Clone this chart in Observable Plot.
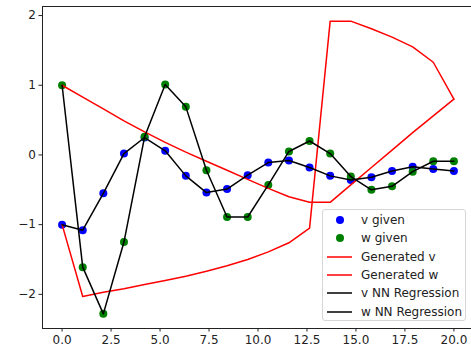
<!DOCTYPE html>
<html>
<head>
<meta charset="utf-8">
<script src="https://cdn.jsdelivr.net/npm/d3@7"></script>
<script src="https://cdn.jsdelivr.net/npm/@observablehq/plot@0.6"></script>
<style>
  html, body { margin: 0; padding: 0; background: #fff; overflow: hidden; width: 471px; height: 351px; }
  #wrap { position: relative; width: 480px; height: 351px; }
  #wrap svg { max-width: none !important; display: block; }
  .legend { position: absolute; left: 322px; top: 209px; width: 144px; height: 112px;
    border: 1px solid #d6d6d6; border-radius: 3px; background: rgba(255,255,255,0.85);
    font-family: "DejaVu Sans", sans-serif; font-size: 12px; color: #222; box-sizing: border-box; }
  .row { position: absolute; left: 0; height: 18px; width: 100%; }
  .row svg { position: absolute; left: 3px; top: 0; }
  .row span { position: absolute; left: 38px; top: 1px; line-height: 16px; white-space: nowrap; }
</style>
</head>
<body>
<div id="wrap"></div>
<script>
// x positions of the samples
const xs = [0, 1.053, 2.105, 3.158, 4.211, 5.263, 6.316, 7.368, 8.421, 9.474,
            10.526, 11.579, 12.632, 13.684, 14.737, 15.789, 16.842, 17.895, 18.947, 20];
// given points
const vGiven = [-1.00, -1.08, -0.55, 0.02, 0.25, 0.06, -0.30, -0.54, -0.49, -0.29,
                -0.11, -0.08, -0.18, -0.30, -0.36, -0.32, -0.23, -0.17, -0.20, -0.23];
const wGiven = [1.00, -1.61, -2.28, -1.25, 0.26, 1.01, 0.69, -0.22, -0.89, -0.89,
                -0.43, 0.05, 0.20, 0.02, -0.31, -0.50, -0.45, -0.24, -0.09, -0.09];
// generated curves
const genV = [1.00, 0.83, 0.66, 0.49, 0.33, 0.18, 0.04, -0.09, -0.22, -0.35,
              -0.48, -0.60, -0.68, -0.68, -0.43, -0.18, 0.07, 0.32, 0.56, 0.80];
const genW = [-1.00, -2.03, -1.97, -1.92, -1.86, -1.80, -1.74, -1.67, -1.59, -1.50,
              -1.39, -1.26, -1.05, 1.92, 1.92, 1.81, 1.69, 1.55, 1.33, 0.80];
// NN regression
const vNN = [-1.00, -1.08, -0.55, 0.02, 0.25, 0.06, -0.30, -0.54, -0.49, -0.29,
             -0.11, -0.08, -0.18, -0.30, -0.36, -0.32, -0.23, -0.17, -0.20, -0.23];
const wNN = [1.00, -1.61, -2.28, -1.25, 0.26, 1.01, 0.69, -0.22, -0.89, -0.89,
             -0.43, 0.05, 0.20, 0.02, -0.31, -0.50, -0.45, -0.24, -0.09, -0.09];
// ticks
const xTicks = [0, 2.5, 5, 7.5, 10, 12.5, 15, 17.5, 20];
const yTicks = [-2, -1, 0, 1, 2];

const legendItems = [
  {label: "v given", kind: "dot", color: "#0000ff"},
  {label: "w given", kind: "dot", color: "#008000"},
  {label: "Generated v", kind: "line", color: "#ff0000"},
  {label: "Generated w", kind: "line", color: "#ff0000"},
  {label: "v NN Regression", kind: "line", color: "#000000"},
  {label: "w NN Regression", kind: "line", color: "#000000"}
];

const tbl = arr => xs.map((x, i) => ({x, y: arr[i]}));

const chart = Plot.plot({
  width: 480,
  height: 351,
  marginLeft: 42,
  marginRight: 7,
  marginTop: 6,
  marginBottom: 23,
  style: {fontFamily: "DejaVu Sans, sans-serif", fontSize: "12px", color: "#222", background: "#fff"},
  x: {domain: [-1, 21], label: null},
  y: {domain: [-2.49, 2.13], label: null},
  marks: [
    Plot.dot(tbl(vGiven), {x: "x", y: "y", r: 4, fill: "#0000ff", stroke: "none"}),
    Plot.dot(tbl(wGiven), {x: "x", y: "y", r: 4, fill: "#008000", stroke: "none"}),
    Plot.line(tbl(genV), {x: "x", y: "y", stroke: "#ff0000", strokeWidth: 1.5}),
    Plot.line(tbl(genW), {x: "x", y: "y", stroke: "#ff0000", strokeWidth: 1.5}),
    Plot.line(tbl(vNN), {x: "x", y: "y", stroke: "#000000", strokeWidth: 1.5}),
    Plot.line(tbl(wNN), {x: "x", y: "y", stroke: "#000000", strokeWidth: 1.5}),
    Plot.frame({stroke: "#222", strokeWidth: 1}),
    Plot.axisX({ticks: xTicks, tickFormat: d => d.toFixed(1), tickSize: 3.5, tickPadding: 3, fontSize: 12, label: null}),
    Plot.axisY({ticks: yTicks, tickFormat: d => (d < 0 ? "\u2212" : "") + Math.abs(d), tickSize: 3.5, tickPadding: 3, fontSize: 12, label: null})
  ]
});
const wrap = document.getElementById("wrap");
wrap.appendChild(chart);

const leg = document.createElement("div");
leg.className = "legend";
legendItems.forEach((it, i) => {
  const row = document.createElement("div");
  row.className = "row";
  row.style.top = (1 + i * 18.3) + "px";
  const sym = it.kind === "dot"
    ? `<svg width="30" height="18"><circle cx="14" cy="9" r="4" fill="${it.color}"/></svg>`
    : `<svg width="30" height="18"><line x1="1" x2="26" y1="9" y2="9" stroke="${it.color}" stroke-width="1.5"/></svg>`;
  row.innerHTML = sym + `<span>${it.label}</span>`;
  leg.appendChild(row);
});
wrap.appendChild(leg);
</script>
</body>
</html>
